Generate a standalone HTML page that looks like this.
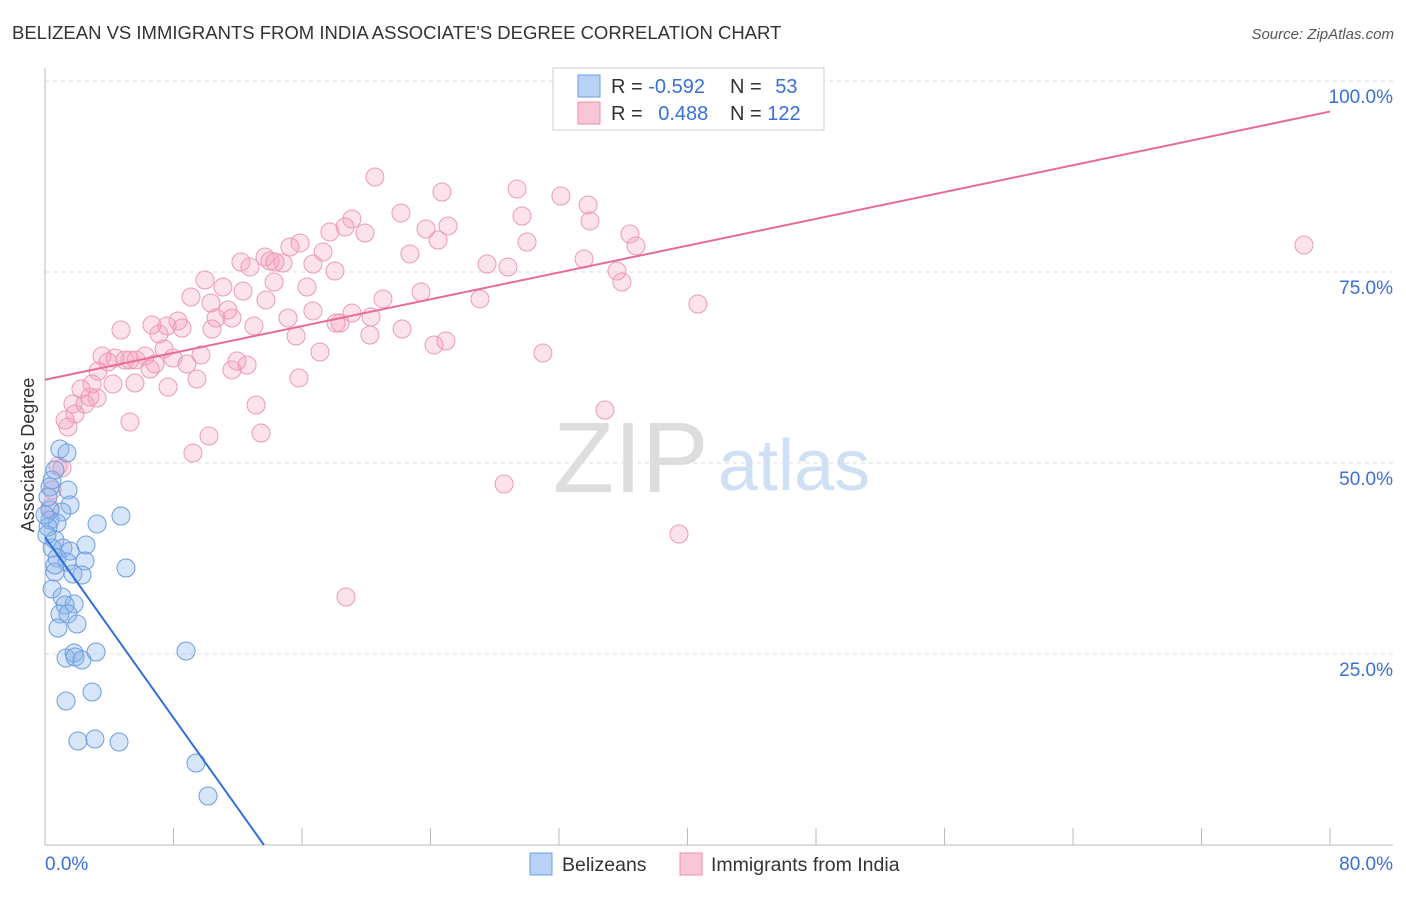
<!DOCTYPE html>
<html><head><meta charset="utf-8"><style>
body{margin:0;background:#fff;font-family:"Liberation Sans",sans-serif}
svg text{font-family:"Liberation Sans",sans-serif}
</style></head><body>
<svg id="chart" width="1406" height="892">
<text x="12" y="39" font-size="18.5" fill="#333">BELIZEAN VS IMMIGRANTS FROM INDIA ASSOCIATE'S DEGREE CORRELATION CHART</text>
<text x="1394" y="39" font-size="15" fill="#555" text-anchor="end" font-style="italic">Source: ZipAtlas.com</text>
<g>
<text x="553" y="492" font-size="100" fill="#ddd" font-family="Liberation Serif">ZIP</text>
<text x="718" y="490" font-size="72" fill="#cfe0f4">atlas</text>
</g>
<g id="grid"></g><g id="pts"></g><g id="lines"></g>
<text x="34" y="455" font-size="18" fill="#333" text-anchor="middle" transform="rotate(-90 34 455)">Associate's Degree</text>
<text x="45" y="870" font-size="19" fill="#3a6fd8">0.0%</text>
<text x="1393" y="870" font-size="19" fill="#3a6fd8" text-anchor="end">80.0%</text>
<g>
<rect x="553" y="68" width="271" height="62" fill="#fff" stroke="#ccc"/>
<rect x="578" y="75" width="22" height="22" fill="#b7d2f5" stroke="#6d9de0"/>
<rect x="578" y="102" width="22" height="22" fill="#f9c6d6" stroke="#ec8fae"/>
<text x="611" y="93" font-size="20" fill="#333">R = <tspan fill="#3a6fd8">-0.592</tspan></text>
<text x="730" y="93" font-size="20" fill="#333">N = <tspan fill="#3a6fd8" dx="8">53</tspan></text>
<text x="611" y="120" font-size="20" fill="#333">R = <tspan fill="#3a6fd8" dx="10">0.488</tspan></text>
<text x="730" y="120" font-size="20" fill="#333">N = <tspan fill="#3a6fd8">122</tspan></text>
</g>
<g>
<rect x="530" y="853" width="22" height="22" fill="#b7d2f5" stroke="#6d9de0"/>
<text x="562" y="871" font-size="19.5" fill="#333">Belizeans</text>
<rect x="680" y="853" width="22" height="22" fill="#f9c6d6" stroke="#ec8fae"/>
<text x="711" y="871" font-size="19.5" fill="#333">Immigrants from India</text>
</g>
</svg>
<script>
const yTicks=[25,50,75,100];
const xTicks=[0,8,16,24,32,40,48,56,64,72,80];
const bluePx=[[50,487],[52,480],[55,470],[60,449],[67,453],[68,490],[70,505],[62,512],[50,510],[50,520],[57,523],[48,527],[97,524],[121,516],[55,540],[52,548],[63,548],[70,551],[86,545],[57,558],[67,562],[85,561],[126,568],[55,572],[73,574],[82,575],[52,589],[62,597],[74,604],[65,605],[60,614],[68,614],[77,624],[58,628],[66,658],[74,653],[75,657],[82,660],[96,652],[186,651],[92,692],[66,701],[78,741],[95,739],[119,742],[196,763],[208,796],[45,515],[47,535],[55,565],[48,497]];
const pinkPx=[[375,177],[442,192],[517,189],[561,196],[588,205],[401,213],[352,219],[522,216],[590,221],[448,226],[345,227],[426,229],[330,232],[365,233],[630,234],[438,240],[527,242],[300,243],[290,247],[636,246],[323,252],[410,254],[265,257],[241,262],[270,261],[584,259],[283,263],[313,264],[250,267],[275,262],[487,264],[508,267],[335,271],[617,271],[205,280],[274,282],[622,282],[307,287],[223,287],[243,291],[191,297],[421,292],[383,299],[266,300],[211,303],[480,299],[228,310],[698,304],[313,311],[352,313],[216,318],[232,318],[288,318],[371,317],[178,321],[336,323],[340,323],[152,325],[167,326],[254,326],[121,330],[182,328],[212,329],[402,329],[370,335],[296,336],[446,341],[434,345],[159,334],[164,349],[320,352],[102,356],[145,356],[201,355],[543,353],[115,358],[173,358],[125,360],[130,360],[136,360],[108,362],[155,364],[237,361],[247,365],[232,370],[98,371],[150,369],[187,364],[299,378],[135,383],[92,384],[113,384],[197,379],[168,387],[81,389],[97,398],[73,404],[85,404],[90,397],[256,405],[75,414],[65,420],[130,422],[605,410],[68,427],[209,436],[261,433],[193,453],[58,466],[62,468],[504,484],[679,534],[346,597],[1304,245],[50,508],[52,490]];
const blueX=bluePx.map(p=>+((p[0]-45)/1285*80).toFixed(2));
const blueY=bluePx.map(p=>+((845-p[1])/764*100).toFixed(2));
const pinkX=pinkPx.map(p=>+((p[0]-45)/1285*80).toFixed(2));
const pinkY=pinkPx.map(p=>+((845-p[1])/764*100).toFixed(2));
const blueLine=[[0,40.3],[13.63,0]];
const pinkLine=[[0,60.9],[80,96]];
const X=v=>45+v/80*1285, Y=v=>845-v/100*764;
const NS="http://www.w3.org/2000/svg";
function mk(t,a,p){const e=document.createElementNS(NS,t);for(const k in a)e.setAttribute(k,a[k]);p.appendChild(e);return e;}
const g=document.getElementById('grid');
yTicks.forEach(t=>{
 const l=mk('line',{x1:45,x2:1393,y1:Y(t),y2:Y(t),stroke:'#ddd','stroke-dasharray':'4 4'},g);
 
 
 const tx=mk('text',{x:1393,y:Y(t)+22,'font-size':19,fill:'#3a6fd8','text-anchor':'end'},g);tx.textContent=t.toFixed(1)+'%';
 
 
});
const ax=mk('line',{x1:45,x2:45,y1:68,y2:845,stroke:'#bbb'},g);


const bx=mk('line',{x1:45,x2:1393,y1:845,y2:845,stroke:'#bbb'},g);


xTicks.forEach(t=>{const l=mk('line',{x1:X(t),x2:X(t),y1:828,y2:845,stroke:'#bbb'},g);
 
 });
const P=document.getElementById('pts');
pinkX.forEach((x,i)=>{const c=mk('circle',{cx:X(x),cy:Y(pinkY[i]),r:9,fill:'rgba(244,160,188,0.3)',stroke:'#ec9ab5','stroke-width':1},P);
 
 });
blueX.forEach((x,i)=>{const c=mk('circle',{cx:X(x),cy:Y(blueY[i]),r:9,fill:'rgba(140,180,235,0.35)',stroke:'#6d9de0','stroke-width':1},P);
 
 });
const L=document.getElementById('lines');
const bl=mk('line',{x1:X(blueLine[0][0]),y1:Y(blueLine[0][1]),x2:X(blueLine[1][0]),y2:Y(blueLine[1][1]),stroke:'#2f6fd8','stroke-width':2},L);


const pl=mk('line',{x1:X(pinkLine[0][0]),y1:Y(pinkLine[0][1]),x2:X(pinkLine[1][0]),y2:Y(pinkLine[1][1]),stroke:'#e8699a','stroke-width':2},L);


</script>
</body></html>
